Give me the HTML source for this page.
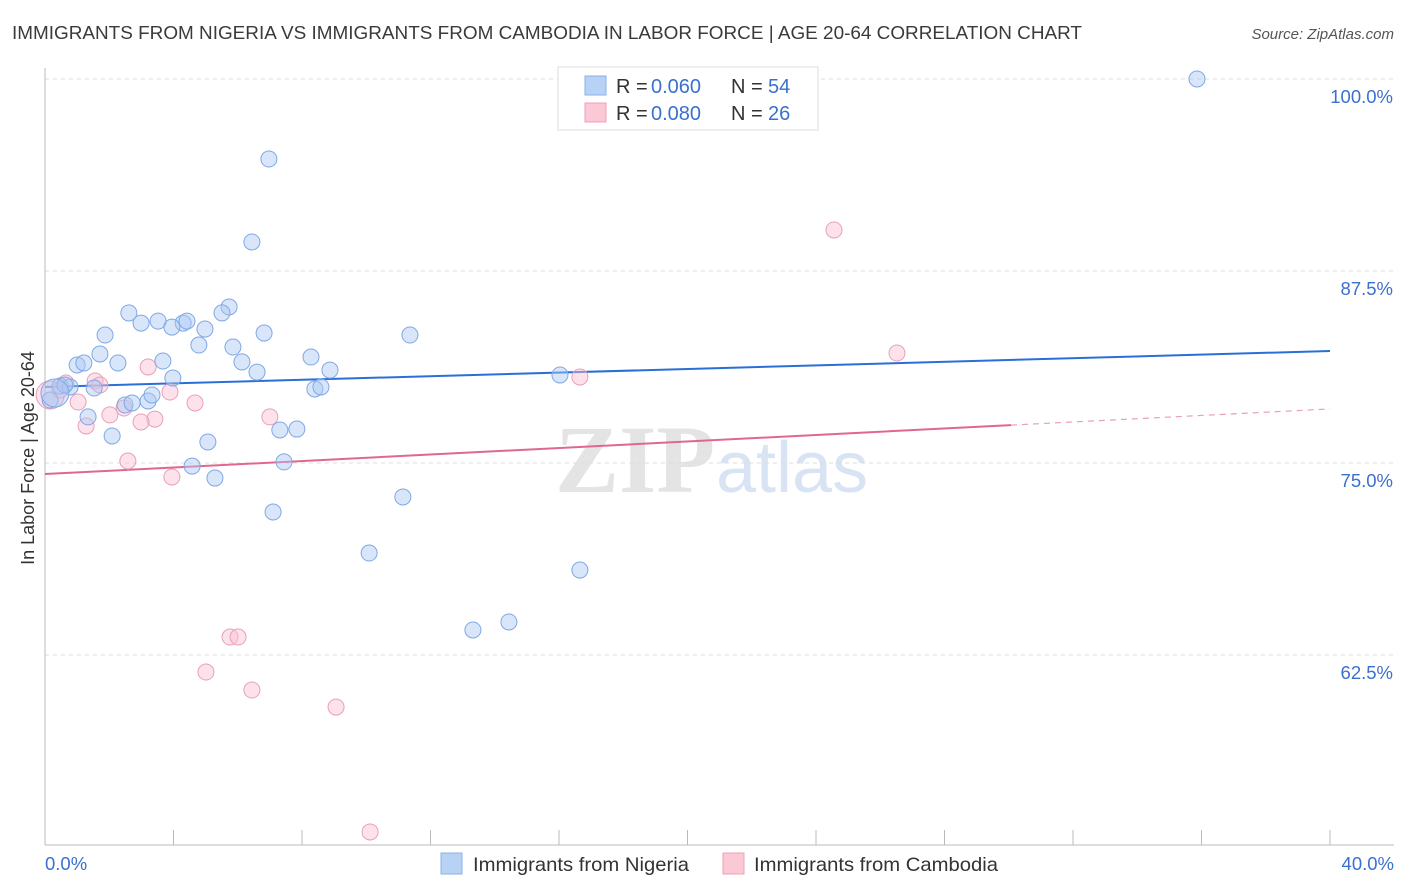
<!DOCTYPE html>
<html><head><meta charset="utf-8"><style>
body{margin:0;background:#fff;font-family:"Liberation Sans",sans-serif;}
svg{display:block}
</style></head><body>
<svg id="chart" width="1406" height="892">
<text x="12" y="39" font-size="18.5" fill="#3a3a3a" textLength="1070" lengthAdjust="spacingAndGlyphs">IMMIGRANTS FROM NIGERIA VS IMMIGRANTS FROM CAMBODIA IN LABOR FORCE | AGE 20-64 CORRELATION CHART</text>
<text x="1394" y="39" font-size="15" fill="#555" font-style="italic" text-anchor="end">Source: ZipAtlas.com</text>
<text x="34" y="458" font-size="18" fill="#333" text-anchor="middle" transform="rotate(-90 34 458)">In Labor Force | Age 20-64</text>
<text x="555" y="492" font-size="96" fill="#e4e4e4" font-family="Liberation Serif,serif" font-weight="bold">ZIP</text>
<text x="716" y="492" font-size="72" fill="#d8e4f4">atlas</text>
<g id="grid"></g><g id="axes"></g><g id="lines"></g><g id="pts"></g>
<g>
<rect x="558" y="67" width="260" height="63" fill="#fff" stroke="#ddd"/>
<rect x="585" y="76" width="21" height="19" fill="#b8d2f6" stroke="#8ab0e8"/>
<rect x="585" y="103" width="21" height="19" fill="#fbc8d6" stroke="#eea0b8"/>
<text x="616" y="93" font-size="20" fill="#333">R =</text><text x="651" y="93" font-size="20" fill="#3a70d0">0.060</text>
<text x="731" y="93" font-size="20" fill="#333">N =</text><text x="768" y="93" font-size="20" fill="#3a70d0">54</text>
<text x="616" y="120" font-size="20" fill="#333">R =</text><text x="651" y="120" font-size="20" fill="#3a70d0">0.080</text>
<text x="731" y="120" font-size="20" fill="#333">N =</text><text x="768" y="120" font-size="20" fill="#3a70d0">26</text>
</g>
<g>
<rect x="441" y="853" width="21" height="21" fill="#b8d2f6" stroke="#8ab0e8"/>
<text x="473" y="871" font-size="19.5" fill="#333" textLength="216" lengthAdjust="spacingAndGlyphs">Immigrants from Nigeria</text>
<rect x="723" y="853" width="21" height="21" fill="#fbc8d6" stroke="#eea0b8"/>
<text x="754" y="871" font-size="19.5" fill="#333" textLength="244" lengthAdjust="spacingAndGlyphs">Immigrants from Cambodia</text>
</g>
</svg>
<script>
const yTicks=[100,87.5,75,62.5];
const yTickLabels=["100.0%","87.5%","75.0%","62.5%"];
const xTickLabels=["0.0%","40.0%"];
const nigeriaX=[35.86,6.97,6.44,5.73,5.51,2.61,2.99,3.52,4.30,4.42,3.95,4.98,6.82,11.36,1.87,4.79,5.85,1.71,8.28,3.67,1.00,1.21,2.27,6.13,6.60,8.87,16.03,3.98,8.40,8.59,1.53,0.47,0.78,0.16,2.49,2.71,3.21,3.33,1.34,2.09,7.31,7.84,5.07,4.58,7.44,5.29,11.14,7.10,10.09,16.65,14.44,13.32,0.62,0.31];
const nigeriaY=[100.0,94.79,89.39,85.16,84.77,84.77,84.11,84.24,84.11,84.24,83.85,83.72,83.46,83.33,83.33,82.68,82.55,82.10,81.90,81.64,81.38,81.51,81.51,81.58,80.92,81.05,80.73,80.53,79.82,79.95,79.88,80.01,79.95,79.10,78.78,78.91,79.04,79.43,78.00,76.76,77.15,77.21,76.37,74.80,75.07,74.02,72.79,71.81,69.14,68.03,64.65,64.13,80.08,79.56];
const cambodiaX=[24.56,26.52,16.65,3.21,1.56,1.71,0.65,3.89,4.67,1.03,2.46,2.02,3.42,2.99,7.00,1.28,2.58,3.95,0.16,5.76,6.01,5.01,6.44,9.06,10.12,0.47];
const cambodiaY=[90.17,82.16,80.60,81.25,80.34,80.08,80.21,79.62,78.91,78.97,78.58,78.13,77.86,77.67,78.00,77.41,75.13,74.09,79.43,63.67,63.67,61.39,60.22,59.11,50.98,79.75];
const nigeriaTrend=[79.95,82.29];
const cambodiaTrend=[74.28,78.52];
const cambodiaSolidEnd=30.07;

const NS="http://www.w3.org/2000/svg";
const X0=45,X1=1330;
const xs=v=>X0+v/40*(X1-X0);
const ys=v=>79+(100-v)*15.36;
function mk(tag,attrs,parent){const e=document.createElementNS(NS,tag);for(const k in attrs)e.setAttribute(k,attrs[k]);document.getElementById(parent).appendChild(e);return e;}
yTicks.forEach((t,i)=>{
  const g=mk('line',{x1:45,x2:1394,y1:ys(t),y2:ys(t),stroke:'#ddd','stroke-dasharray':'4,4'},'grid');
  
  
  const l=mk('text',{x:1393,y:ys(t)+24,'font-size':18.5,fill:'#3a70d0','text-anchor':'end'},'grid');
  l.textContent=yTickLabels[i];
  
  
});
const ax=mk('line',{x1:45,x2:45,y1:68,y2:845,stroke:'#bbb'},'axes');


const bx=mk('line',{x1:45,x2:1394,y1:845,y2:845,stroke:'#bbb'},'axes');


for(let i=0;i<=10;i++){const t=mk('line',{x1:xs(i*4),x2:xs(i*4),y1:830,y2:845,stroke:'#bbb'},'axes');

}
[[0,'start',45],[40,'end',1394]].forEach((d,i)=>{const t=mk('text',{x:d[2],y:870,'font-size':18.5,fill:'#3a70d0','text-anchor':d[1]},'axes');t.textContent=xTickLabels[i];

});
const bl=mk('line',{x1:xs(0),x2:xs(40),y1:ys(nigeriaTrend[0]),y2:ys(nigeriaTrend[1]),stroke:'#2a6fd6','stroke-width':2},'lines');


const pf=v=>cambodiaTrend[0]+(cambodiaTrend[1]-cambodiaTrend[0])*v/40;
const pl=mk('line',{x1:xs(0),x2:xs(cambodiaSolidEnd),y1:ys(pf(0)),y2:ys(pf(cambodiaSolidEnd)),stroke:'#e06890','stroke-width':2},'lines');


const pd=mk('line',{x1:xs(cambodiaSolidEnd),x2:xs(40),y1:ys(pf(cambodiaSolidEnd)),y2:ys(pf(40)),stroke:'#e8a0b8','stroke-width':1.2,'stroke-dasharray':'6,5'},'lines');


function pts(X,Y,fill,stroke,name){X.forEach((x,i)=>{const r=(i===X.length-1&&name==='nigeria-point')||(name==='cambodia-point'&&i===18)?14:8;
const c=mk('circle',{cx:xs(x),cy:ys(Y[i]),r:r,fill:fill,stroke:stroke,'stroke-width':1},'pts');

});}
pts(cambodiaX,cambodiaY,'rgba(250,190,210,0.45)','#e8a0b8','cambodia-point');
pts(nigeriaX,nigeriaY,'rgba(170,200,245,0.45)','#7fa8e6','nigeria-point');
</script>
</body></html>
